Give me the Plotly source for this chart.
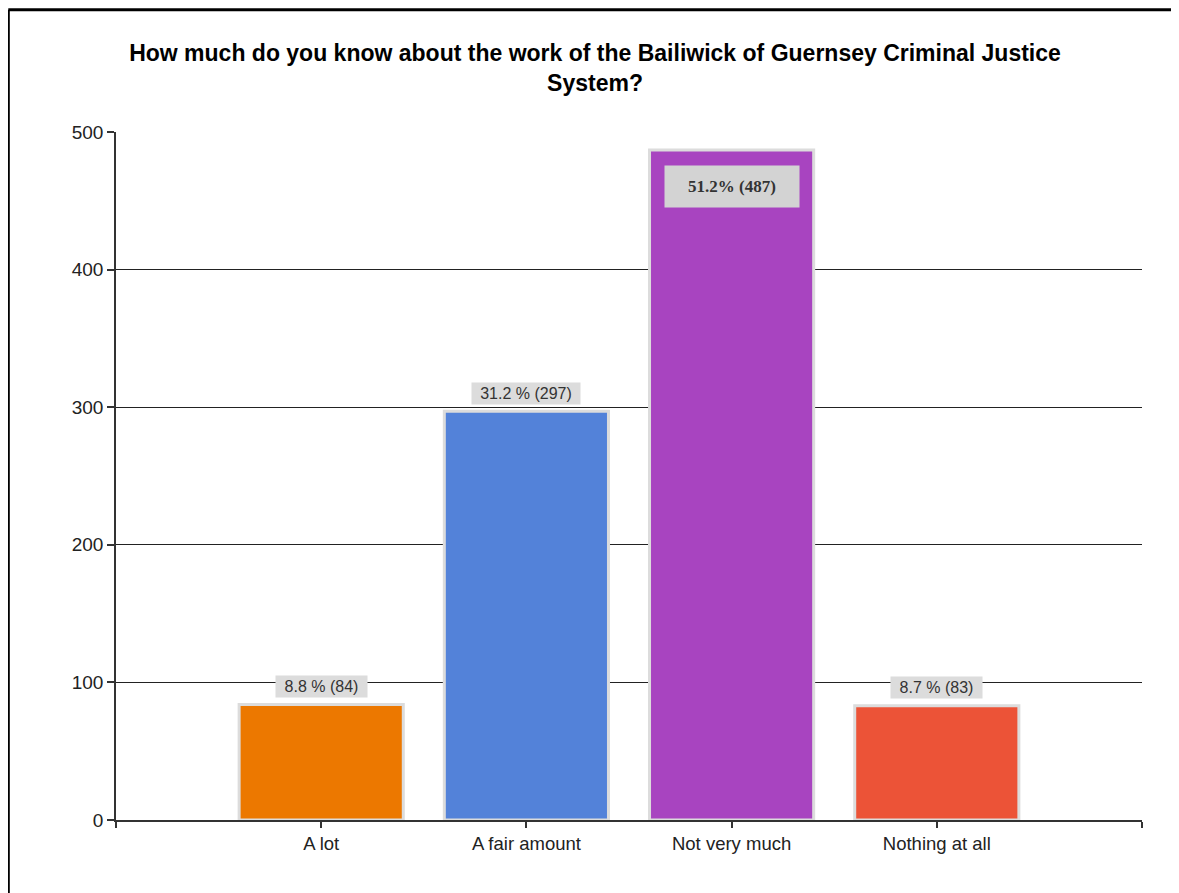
import plotly.graph_objects as go

categories = ["A lot", "A fair amount", "Not very much", "Nothing at all"]
counts = [84, 297, 487, 83]
percents = [8.8, 31.2, 51.2, 8.7]
bar_colors = ["#EC7800", "#5382D9", "#A844C0", "#EC5337"]
y_ticks = [0, 100, 200, 300, 400, 500]

# page body has an 8px offset; layout is expressed in figure pixels
OFF = 8
W, H = 1179, 893
L, R, T, B = 116 - OFF, 1179 - (1142 - OFF), 132 - OFF, 893 - (820 - OFF)
pw, ph = W - L - R, H - T - B

x_pos = list(range(len(categories)))

fig = go.Figure()
fig.add_trace(go.Bar(
    x=x_pos, y=counts, width=0.8,
    marker=dict(color=bar_colors, line=dict(color="#DCDCDC", width=3)),
    hoverinfo="skip", showlegend=False,
))

annotations = []
for i, (c, p) in enumerate(zip(counts, percents)):
    if c == max(counts):
        annotations.append(dict(
            x=i, y=c, xref="x", yref="y", text=f"<b>{p}% ({c})</b>", showarrow=False,
            yanchor="middle", yshift=-37, bgcolor="#D3D3D3", width=130, height=37, borderpad=2,
            font=dict(family="Liberation Serif, Times New Roman, serif", size=17, color="#333333"),
        ))
    else:
        label = f"{p} % ({c})"
        annotations.append(dict(
            x=i, y=c, xref="x", yref="y", text=label, showarrow=False,
            yanchor="middle", yshift=18, bgcolor="#DCDCDC",
            width=round(8.7 * len(label)), height=17, borderpad=2,
            font=dict(family="Liberation Sans, Arial, sans-serif", size=16, color="#333333"),
        ))

def px_x(p):
    return (p - OFF - L) / pw
def px_y(p):
    return (H - B - (p - OFF)) / ph

shapes = [
    dict(type="line", xref="paper", yref="paper", x0=px_x(8.3), x1=px_x(W + 20),
         y0=px_y(9.7), y1=px_y(9.7), line=dict(color="black", width=3)),
    dict(type="line", xref="paper", yref="paper", x0=px_x(8.3), x1=px_x(8.3),
         y0=px_y(9.7), y1=px_y(H + 20), line=dict(color="black", width=3)),
]

fig.update_layout(
    width=W, height=H,
    margin=dict(l=L, r=R, t=T, b=B),
    paper_bgcolor="white", plot_bgcolor="white",
    title=dict(
        text="How much do you know about the work of the Bailiwick of Guernsey Criminal Justice<br>System?",
        x=(595 - OFF) / W, xref="container", xanchor="center",
        y=1 - (61 - OFF) / H, yref="container", yanchor="top",
        font=dict(family="Liberation Sans, Arial, sans-serif", size=23, color="black", weight="bold"),
    ),
    xaxis=dict(
        range=[-1, len(categories)], tickmode="array",
        tickvals=[-1] + x_pos + [len(categories)],
        ticktext=[""] + categories + [""],
        showgrid=False, zeroline=False,
        showline=True, linecolor="#333333", linewidth=1.5,
        ticks="outside", ticklen=6, tickcolor="#333333", tickwidth=1.5,
        tickfont=dict(family="Liberation Sans, Arial, sans-serif", size=18.5, color="#222222"),
        fixedrange=True,
    ),
    yaxis=dict(
        range=[0, 500], tickmode="array", tickvals=y_ticks,
        showgrid=True, gridcolor="#222222", gridwidth=1.2,
        zeroline=False, showline=True, linecolor="#333333", linewidth=1.5,
        ticks="outside", ticklen=7, tickcolor="#333333", tickwidth=1.5,
        tickfont=dict(family="Liberation Sans, Arial, sans-serif", size=19, color="#222222"),
        fixedrange=True,
    ),
    annotations=annotations,
    shapes=shapes,
    bargap=0.2,
)

fig.write_html("out.html")
